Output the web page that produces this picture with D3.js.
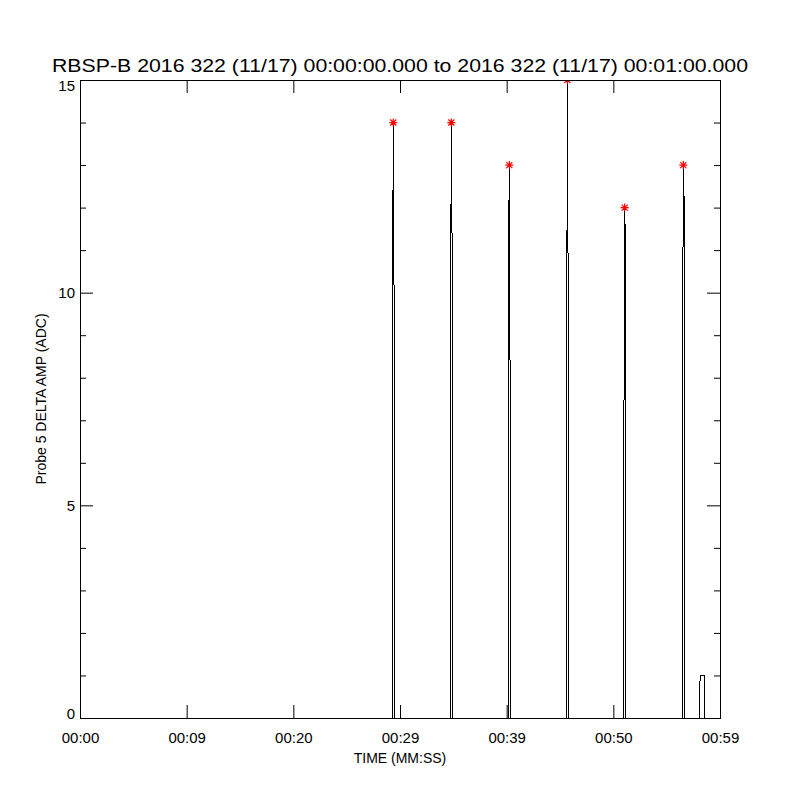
<!DOCTYPE html>
<html>
<head>
<meta charset="utf-8">
<script src="https://cdn.jsdelivr.net/npm/d3@7"></script>
<style>
  body { margin: 0; background: #fff; }
  text { font-family: 'Liberation Sans', Arial, sans-serif; fill: #000; }
</style>
</head>
<body>
<svg width="800" height="800"></svg>
<script>
// sample times (s after 00:00:00) and Probe 5 delta amplitude (ADC)
const sampleTime = [0,
  29.28, 29.28, 29.37, 29.46, 29.46,
  34.72, 34.72, 34.81, 34.90, 34.90,
  40.16, 40.16, 40.25, 40.34, 40.34,
  45.60, 45.60, 45.69, 45.78, 45.78,
  50.97, 50.97, 51.06, 51.15, 51.15,
  56.47, 56.47, 56.56, 56.65, 56.65,
  58.06, 58.06, 58.15, 58.53, 58.53,
  60];
const sampleValue = [0,
  0, 8, 14, 9, 0,
  0, 7.5, 14, 10.5, 0,
  0, 10.5, 13, 6.5, 0,
  0, 5, 15, 9, 0,
  0, 5, 12, 11, 0,
  0, 6.5, 13, 12, 0,
  0, 0.5, 1, 1, 0,
  0];
const xTickValues = [0, 10, 20, 30, 40, 50, 60];
const xTickLabels = ['00:00', '00:09', '00:20', '00:29', '00:39', '00:50', '00:59'];
const yTickValues = [0, 5, 10, 15];
const yMinorValues = [1, 2, 3, 4, 6, 7, 8, 9, 11, 12, 13, 14];
const titleText = 'RBSP-B 2016 322 (11/17) 00:00:00.000 to 2016 322 (11/17) 00:01:00.000';
const xTitle = 'TIME (MM:SS)';
const yTitle = 'Probe 5 DELTA AMP (ADC)';

let svg = d3.select('svg');
let marge = { top: 80, bottom: 82, left: 80, right: 80 };
let width = 800, height = 800;

let x = d3.scaleLinear().domain([0, 60]).range([marge.left, width - marge.right]);
let y = d3.scaleLinear().domain([0, 15]).range([height - marge.bottom, marge.top]);

let points = sampleTime.map(function(t, i) {
  return { t: t, v: sampleValue[i] };
});
// peaks: local maxima of the series
let peaks = points.filter(function(d, i) {
  return i > 0 && i < points.length - 1 && d.v > points[i - 1].v && d.v > points[i + 1].v && d.v > 2;
});

svg.append('clipPath').attr('id', 'plotclip')
  .append('rect')
  .attr('x', x(0)).attr('y', y(15))
  .attr('width', x(60) - x(0)).attr('height', y(0) - y(15));

let line = d3.line()
  .x(function(d) { return x(d.t); })
  .y(function(d) { return y(d.v); });

svg.append('path')
  .datum(points)
  .attr('d', line)
  .attr('fill', 'none')
  .attr('stroke', '#000')
  .attr('stroke-width', 1)
  .attr('shape-rendering', 'crispEdges');

svg.append('g')
  .attr('clip-path', 'url(#plotclip)')
  .selectAll('path')
  .data(peaks)
  .enter()
  .append('path')
  .attr('transform', function(d) {
    return 'translate(' + x(d.t) + ',' + y(d.v) + ')';
  })
  .attr('d', 'M-4,0H4M0,-4V4M-3,-3L3,3M-3,3L3,-3')
  .attr('stroke', '#ff0000')
  .attr('stroke-width', 1.2)
  .attr('fill', 'none');

// axes: ticks point inward on all four sides
function styleAxis(g) {
  g.select('.domain').remove();
  g.selectAll('line').attr('stroke', '#000').attr('stroke-width', 1);
  g.selectAll('text').style('font-size', '15px').attr('font-family', null);
}

let bottom = svg.append('g')
  .attr('transform', 'translate(0,' + y(0) + ')')
  .call(d3.axisBottom(x).tickValues(xTickValues)
    .tickFormat(function(d, i) { return xTickLabels[i]; })
    .tickSizeInner(-13).tickSizeOuter(0).tickPadding(14));
styleAxis(bottom);

svg.append('g')
  .attr('transform', 'translate(0,' + y(15) + ')')
  .call(d3.axisTop(x).tickValues(xTickValues).tickFormat('')
    .tickSizeInner(-13).tickSizeOuter(0))
  .call(styleAxis);

let left = svg.append('g')
  .attr('transform', 'translate(' + x(0) + ',0)')
  .call(d3.axisLeft(y).tickValues(yTickValues).tickFormat(d3.format('d'))
    .tickSizeInner(-13).tickSizeOuter(0).tickPadding(5));
styleAxis(left);
left.selectAll('text').attr('dy', function(d, i) {
  if (i === 0) return '0.05em';
  if (i === yTickValues.length - 1) return '0.7em';
  return '0.35em';
});

svg.append('g')
  .attr('transform', 'translate(' + x(0) + ',0)')
  .call(d3.axisLeft(y).tickValues(yMinorValues).tickFormat('')
    .tickSizeInner(-6).tickSizeOuter(0))
  .call(styleAxis);

svg.append('g')
  .attr('transform', 'translate(' + x(60) + ',0)')
  .call(d3.axisRight(y).tickValues(yTickValues).tickFormat('')
    .tickSizeInner(-13).tickSizeOuter(0))
  .call(styleAxis);

svg.append('g')
  .attr('transform', 'translate(' + x(60) + ',0)')
  .call(d3.axisRight(y).tickValues(yMinorValues).tickFormat('')
    .tickSizeInner(-6).tickSizeOuter(0))
  .call(styleAxis);

// frame
svg.append('rect')
  .attr('x', x(0)).attr('y', y(15))
  .attr('width', x(60) - x(0)).attr('height', y(0) - y(15))
  .attr('fill', 'none')
  .attr('stroke', '#000')
  .attr('stroke-width', 1)
  .attr('shape-rendering', 'crispEdges');

// titles
svg.append('text')
  .attr('x', 400).attr('y', 72)
  .attr('text-anchor', 'middle')
  .style('font-size', '18px')
  .attr('textLength', 696)
  .attr('lengthAdjust', 'spacingAndGlyphs')
  .text(titleText);

svg.append('text')
  .attr('x', 400).attr('y', 763)
  .attr('text-anchor', 'middle')
  .style('font-size', '14px')
  .text(xTitle);

svg.append('text')
  .attr('transform', 'translate(46,399) rotate(-90)')
  .attr('text-anchor', 'middle')
  .style('font-size', '14px')
  .text(yTitle);
</script>
</body>
</html>
